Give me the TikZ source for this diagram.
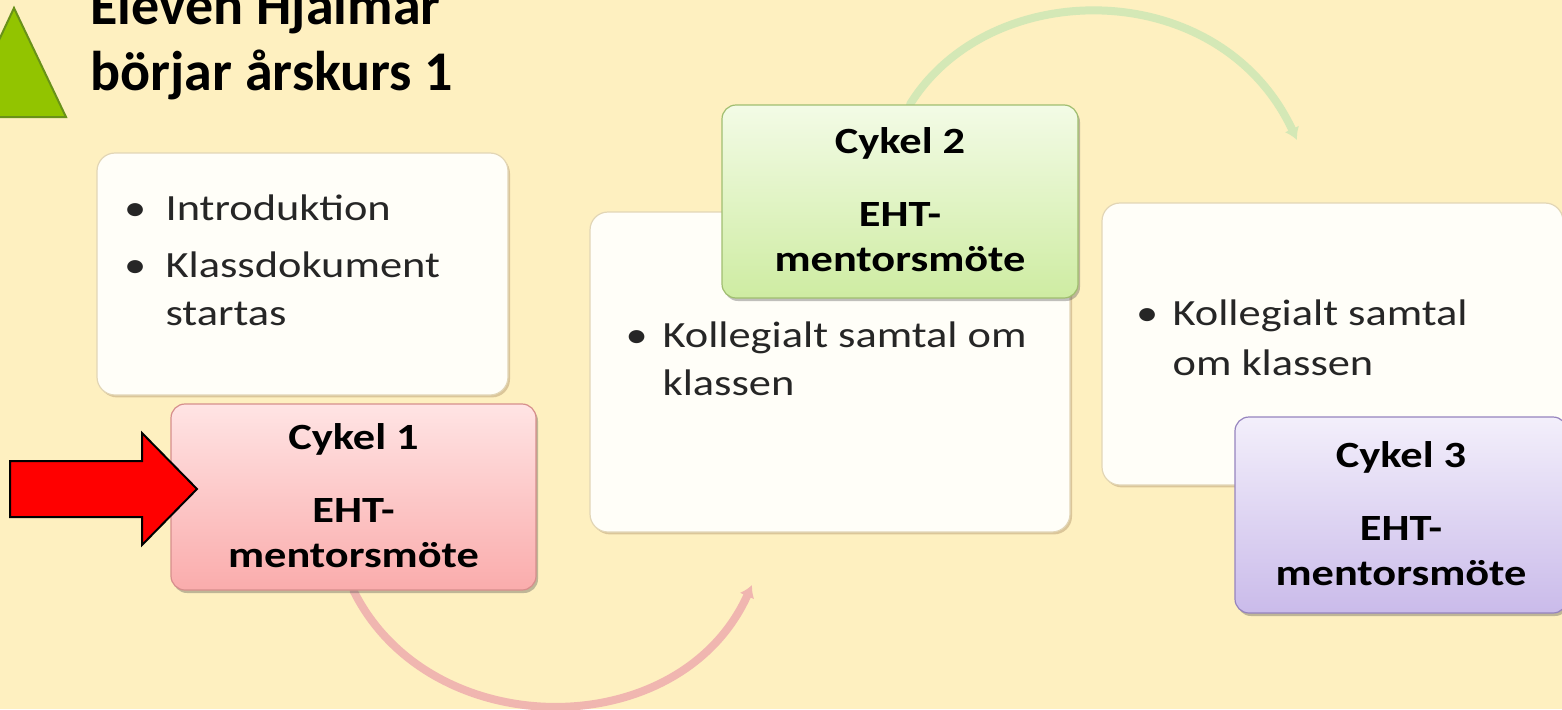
\documentclass[tikz,border=0pt]{standalone}
\usepackage{fontspec}
\setmainfont{Carlito}
\newfontfamily\smartfont[FakeStretch=1.2]{Carlito}
\usepackage{tikz}
\usetikzlibrary{calc}
\usetikzlibrary{backgrounds}
\usetikzlibrary{shadows}
\usetikzlibrary{arrows.meta}
\definecolor{bgyellow}{RGB}{254,240,192}
\definecolor{trigreen}{RGB}{146,196,0}
\definecolor{triedge}{RGB}{105,145,25}
\definecolor{notefill}{RGB}{255,254,248}
\definecolor{noteedge}{RGB}{226,214,182}
\definecolor{pinktop}{RGB}{255,228,228}
\definecolor{pinkbot}{RGB}{250,172,172}
\definecolor{pinkedge}{RGB}{214,142,140}
\definecolor{greentop}{RGB}{243,251,230}
\definecolor{greenbot}{RGB}{206,236,162}
\definecolor{greenedge}{RGB}{160,190,112}
\definecolor{lilactop}{RGB}{243,239,251}
\definecolor{lilacbot}{RGB}{202,187,234}
\definecolor{lilacedge}{RGB}{150,132,190}
\definecolor{pinkarc}{RGB}{240,182,176}
\definecolor{greenarc}{RGB}{212,232,182}
\definecolor{textgray}{RGB}{38,38,38}
\tikzset{every picture/.style={line width=0.6pt}}

\begin{document}
\begin{tikzpicture}[x=0.5pt,y=0.5pt,
note/.style={rounded corners=9pt, draw=noteedge, fill=notefill, drop shadow={shadow xshift=1pt, shadow yshift=-1.2pt, opacity=.25, fill=brown!60!black}},
cyk/.style={rounded corners=7pt, drop shadow={shadow xshift=1pt, shadow yshift=-1.5pt, opacity=.35, fill=black!70}},
item/.style={inner sep=0pt, text=textgray, font=\smartfont\fontsize{18.5}{22}\selectfont},
head/.style={inner sep=0pt, text=black, font=\smartfont\bfseries\fontsize{18.5}{22}\selectfont},
big/.style={inner sep=0pt, text=black, font=\bfseries\fontsize{28}{34}\selectfont},
loop/.style={line width=4pt, line cap=round, -{Latex[length=6pt,width=8pt]}}]
\useasboundingbox (0,0) rectangle (1562,709);
% white note boxes
\node[note, minimum width=205.5pt, minimum height=121pt] (intro) at (302.5,435) {};
\node[note, minimum width=240pt, minimum height=160pt] (mid) at (830,337) {};
\node[note, minimum width=230.5pt, minimum height=141pt] (right) at (1332.5,365) {};
\node[item, anchor=base west] (b1) at ($(intro)+(-179,54)$) {•};
\node[item, anchor=base west] (introt) at ($(intro)+(-137.5,54)$) {Introduktion};
\node[item, anchor=base west] (b2) at ($(intro)+(-179,-3)$) {•};
\node[item, anchor=base west] (klass) at ($(intro)+(-137.5,-3)$) {Klassdokument};
\node[item, anchor=base west] (startas) at ($(klass.base west)+(0,-48)$) {startas};
\node[item, anchor=base west] (b3) at ($(mid)+(-205,25)$) {•};
\node[item, anchor=base west] (midt) at ($(mid)+(-168,25)$) {Kollegialt samtal om};
\node[item, anchor=base west] (midt2) at ($(midt.base west)+(0,-48)$) {klassen};
\node[item, anchor=base west] (b4) at ($(right)+(-197,19)$) {•};
\node[item, anchor=base west] (rightt) at ($(right)+(-160.5,19)$) {Kollegialt samtal};
\node[item, anchor=base west] (rightt2) at ($(rightt.base west)+(0,-50)$) {om klassen};
% cycle boxes
\foreach \i/\x/\y/\w/\h/\c in {1/353.5/212/182.5/93/pink, 2/900/507.5/178/96.5/green, 3/1401/194/166/98/lilac} {
\node[cyk, top color=\c top, bottom color=\c bot, draw=\c edge, minimum width=\w pt, minimum height=\h pt] (cyk\i) at (\x,\y) {};
\node[head, anchor=base] (title\i) at ($(cyk\i)+(0,48)$) {Cykel \i};
\node[head, anchor=base] (eht\i) at ($(cyk\i)+(0,-25)$) {EHT-};
\node[head, anchor=base] (ment\i) at ($(cyk\i)+(0,-70)$) {mentorsmöte};
}
% arcs
\coordinate (arcend1) at (752,124);
\coordinate (arcend2) at (1297,569);
\begin{scope}[on background layer]
\fill[bgyellow] (0,0) rectangle (1562,709);
\draw[loop, pinkarc] (cyk1.south) .. controls (430,-36) and (680,-36) .. (arcend1);
\draw[loop, greenarc] ($(cyk2.north)+(10,0)$) .. controls (990,734) and (1220,734) .. (arcend2);
\end{scope}
% start marker
\draw[fill=trigreen, draw=triedge, line width=1pt] (-37,592) -- (14,701) -- (66,592) -- cycle;
\node[big, anchor=base west] (name1) at (90,684) {Eleven Hjalmar};
\node[big, anchor=base west] (name2) at (90,619) {börjar årskurs 1};
\draw[fill=red, draw=black, line width=1pt] (10,248) -- (142,248) -- (142,276) -- (197,220) -- (142,164) -- (142,192) -- (10,192) -- cycle;
\end{tikzpicture}
\end{document}
